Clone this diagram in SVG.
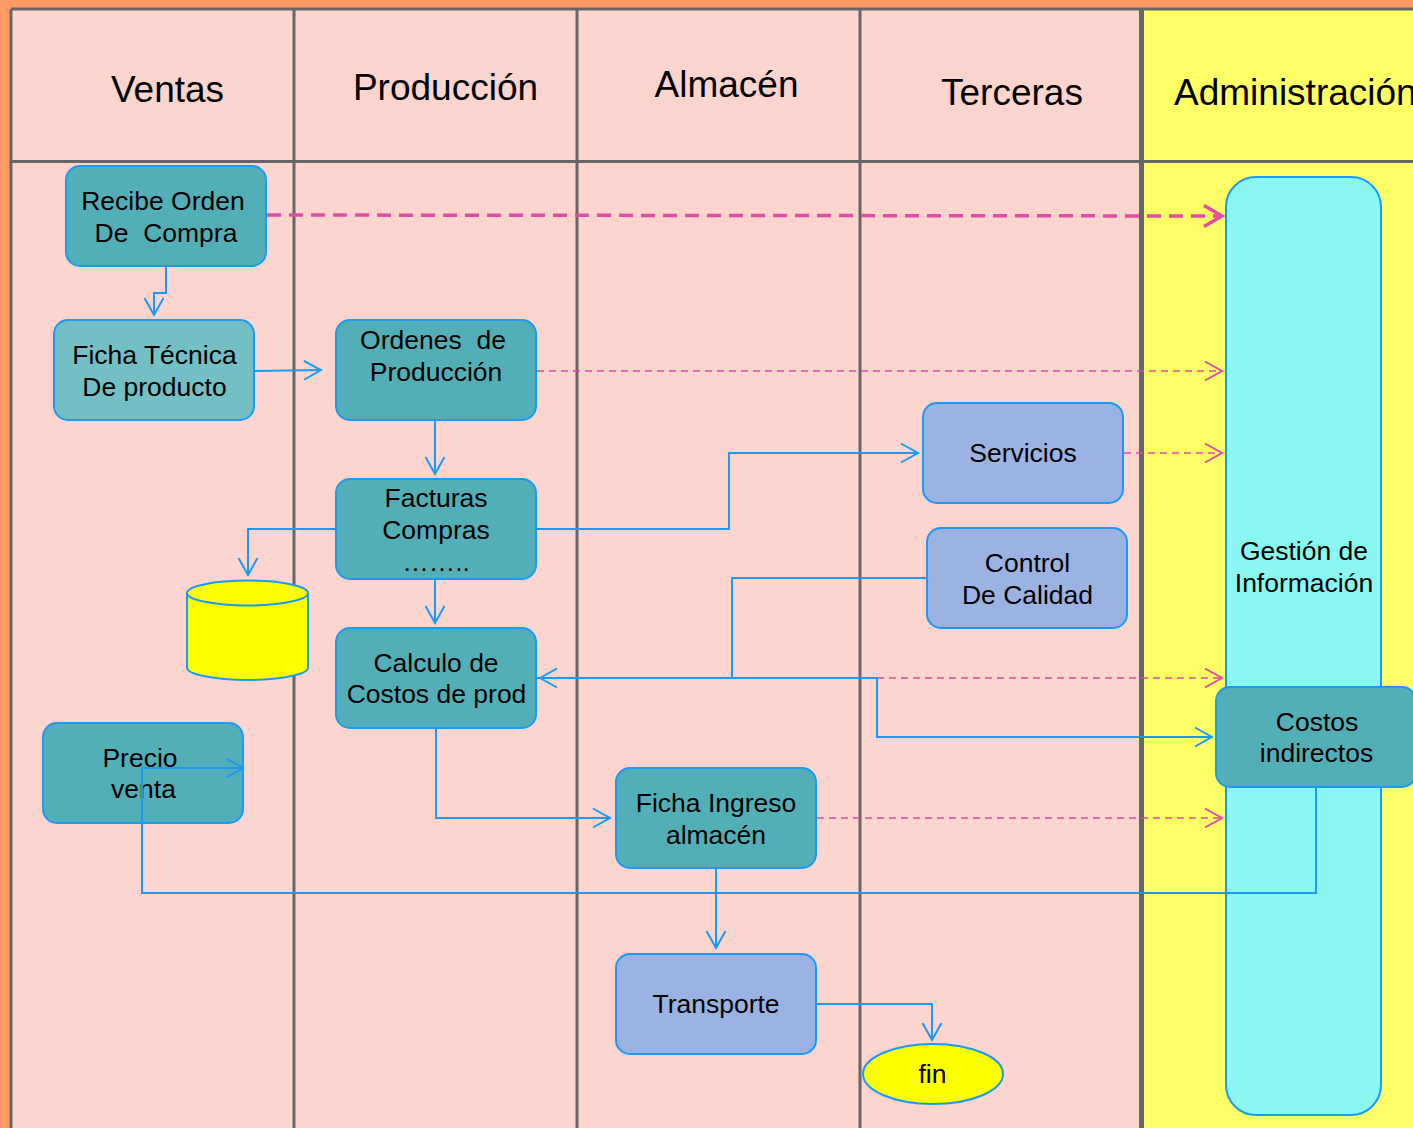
<svg xmlns="http://www.w3.org/2000/svg" width="1413" height="1128" viewBox="0 0 1413 1128">
<style>
.hdr{font-family:"Liberation Sans",Arial,sans-serif;font-size:37px;fill:#000;text-anchor:middle}
.t{font-family:"Liberation Sans",Arial,sans-serif;font-size:26.5px;fill:#000;text-anchor:middle;white-space:pre}
.lane{stroke:#666;stroke-width:3;fill:none}
.box{stroke:#1A9AF5;stroke-width:2}
.teal{fill:#53AFB7}
.lteal{fill:#73BFC5}
.blue{fill:#9BB3E3}
.c{stroke:#1A9AF5;stroke-width:2;fill:none}
.pd{stroke:#E44AA8;stroke-width:1.6;fill:none;stroke-dasharray:7 5}
.pdt{stroke:#E44AA8;stroke-width:3.5;fill:none;stroke-dasharray:14 8}
</style>
<defs>
<marker id="ab" viewBox="0 0 20 22" refX="18" refY="11" markerWidth="20" markerHeight="22" markerUnits="userSpaceOnUse" orient="auto">
<path d="M1,1.5 L18,11 L1,20.5" fill="none" stroke="#1A9AF5" stroke-width="2"/>
</marker>
<marker id="ap" viewBox="0 0 20 22" refX="18" refY="11" markerWidth="20" markerHeight="22" markerUnits="userSpaceOnUse" orient="auto">
<path d="M1,1.5 L18,11 L1,20.5" fill="none" stroke="#E44AA8" stroke-width="2"/>
</marker>
<marker id="apt" viewBox="0 0 22 24" refX="19" refY="12" markerWidth="22" markerHeight="24" markerUnits="userSpaceOnUse" orient="auto">
<path d="M1,1.5 L19,12 L1,22.5" fill="none" stroke="#E44AA8" stroke-width="3.5"/>
</marker>
</defs>

<g id="background">
<rect x="0" y="0" width="1413" height="1128" fill="#FF9966"/>
<rect x="11" y="9" width="1132" height="1119" fill="#FCD5CE"/>
<rect x="1143" y="9" width="270" height="1119" fill="#FFFF66"/>
<line class="lane" x1="11" y1="9" x2="1413" y2="9"/>
<line class="lane" x1="11" y1="9" x2="11" y2="1128"/>
<line class="lane" x1="11" y1="161.5" x2="1413" y2="161.5"/>
<line class="lane" x1="294" y1="9" x2="294" y2="1128"/>
<line class="lane" x1="577" y1="9" x2="577" y2="1128"/>
<line class="lane" x1="860" y1="9" x2="860" y2="1128"/>
<line class="lane" x1="1141.5" y1="9" x2="1141.5" y2="1128" style="stroke-width:5"/>
<text class="hdr" x="167.5" y="102">Ventas</text>
<text class="hdr" x="445.5" y="100">Producción</text>
<text class="hdr" x="726.5" y="97">Almacén</text>
<text class="hdr" x="1012" y="105">Terceras</text>
<text class="hdr" x="1174" y="105" style="text-anchor:start">Administración</text>
</g>

<g id="gestion">
<rect class="box" x="1226" y="177" width="155" height="938" rx="30" fill="#8AF8F0"/>
<text class="t" x="1304" y="560">Gestión de</text>
<text class="t" x="1304" y="592">Información</text>
</g>

<g id="connectors">
<polyline class="c" points="166,266 166,293 154,293 154,315" marker-end="url(#ab)"/>
<line class="pdt" x1="267" y1="215" x2="1222" y2="216" marker-end="url(#apt)"/>
<line class="c" x1="255" y1="371" x2="321" y2="370" marker-end="url(#ab)"/>
<line class="pd" x1="537" y1="371" x2="1222" y2="371" marker-end="url(#ap)"/>
<line class="c" x1="435" y1="421" x2="435" y2="474" marker-end="url(#ab)"/>
<polyline class="c" points="537,529 729,529 729,453 918,453" marker-end="url(#ab)"/>
<polyline class="c" points="335,529 248,529 248,575" marker-end="url(#ab)"/>
<line class="c" x1="435" y1="580" x2="435" y2="623" marker-end="url(#ab)"/>
<line class="pd" x1="1124" y1="453" x2="1222" y2="453" marker-end="url(#ap)"/>
<polyline class="c" points="927,578 732,578 732,678 540,678" marker-end="url(#ab)"/>
<polyline class="c" points="537,678 877,678 877,737 1212,737" marker-end="url(#ab)"/>
<line class="pd" x1="877" y1="678" x2="1222" y2="678" marker-end="url(#ap)"/>
<polyline class="c" points="436,728 436,818 610,818" marker-end="url(#ab)"/>
<line class="pd" x1="817" y1="818" x2="1222" y2="818" marker-end="url(#ap)"/>
<line class="c" x1="716" y1="868" x2="716" y2="948" marker-end="url(#ab)"/>
<polyline class="c" points="817,1004 932,1004 932,1040" marker-end="url(#ab)"/>
</g>

<g id="recibe">
<rect class="box teal" x="66" y="166" width="200" height="100" rx="14"/>
<text class="t" x="163" y="210">Recibe Orden</text>
<text class="t" x="166" y="242">De  Compra</text>
</g>
<g id="fichatecnica">
<rect class="box lteal" x="54" y="320" width="200" height="100" rx="14"/>
<text class="t" x="154.5" y="364">Ficha Técnica</text>
<text class="t" x="154.5" y="396">De producto</text>
</g>
<g id="ordenes">
<rect class="box teal" x="336" y="320" width="200" height="100" rx="14"/>
<text class="t" x="433" y="349">Ordenes  de</text>
<text class="t" x="436" y="381">Producción</text>
</g>
<g id="facturas">
<rect class="box teal" x="336" y="479" width="200" height="100" rx="14"/>
<text class="t" x="436" y="507">Facturas</text>
<text class="t" x="436" y="539">Compras</text>
<text class="t" x="436" y="571">……..</text>
</g>
<g id="basedatos">
<path class="box" d="M187,593 L187,667.5 A60.5,12.5 0 0 0 308,667.5 L308,593" fill="#FFFF00"/>
<ellipse class="box" cx="247.5" cy="593" rx="60.5" ry="12.5" fill="#FFFF00"/>
</g>
<g id="calculo">
<rect class="box teal" x="336" y="628" width="200" height="100" rx="14"/>
<text class="t" x="436" y="672">Calculo de</text>
<text class="t" x="436.5" y="703">Costos de prod</text>
</g>
<g id="precio">
<rect class="box teal" x="43" y="723" width="200" height="100" rx="14"/>
<text class="t" x="140" y="767">Precio</text>
<text class="t" x="143.5" y="798">venta</text>
</g>
<g id="fichaingreso">
<rect class="box teal" x="616" y="768" width="200" height="100" rx="14"/>
<text class="t" x="716" y="812">Ficha Ingreso</text>
<text class="t" x="716" y="844">almacén</text>
</g>
<g id="transporte">
<rect class="box blue" x="616" y="954" width="200" height="100" rx="14"/>
<text class="t" x="716" y="1013">Transporte</text>
</g>
<g id="servicios">
<rect class="box blue" x="923" y="403" width="200" height="100" rx="14"/>
<text class="t" x="1023" y="462">Servicios</text>
</g>
<g id="control">
<rect class="box blue" x="927" y="528" width="200" height="100" rx="14"/>
<text class="t" x="1027.5" y="572">Control</text>
<text class="t" x="1027.5" y="604">De Calidad</text>
</g>
<g id="costosindirectos">
<rect class="box teal" x="1216" y="687" width="200" height="100" rx="14"/>
<text class="t" x="1317" y="731">Costos</text>
<text class="t" x="1316.5" y="762">indirectos</text>
</g>
<g id="fin">
<ellipse class="box" cx="933" cy="1074" rx="70" ry="30" fill="#FFFF00"/>
<text class="t" x="932.5" y="1083">fin</text>
</g>
<g id="connectors-front">
<polyline class="c" points="1316,787 1316,893 142,893 142,768 243,768" marker-end="url(#ab)"/>
</g>
</svg>
